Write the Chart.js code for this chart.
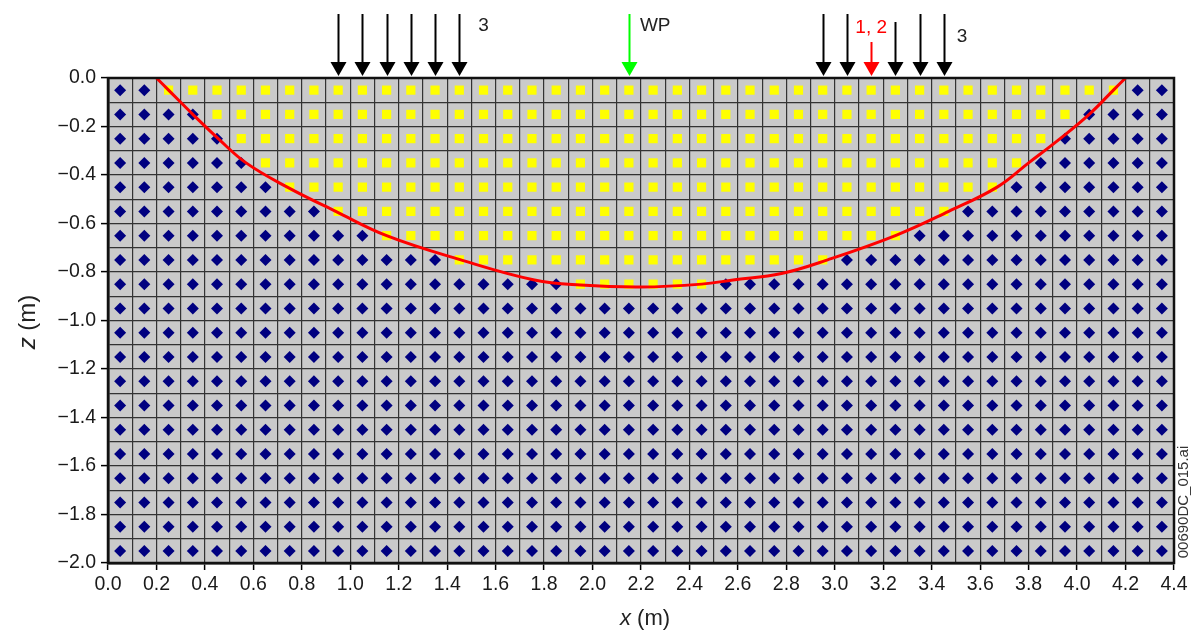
<!DOCTYPE html>
<html>
<head>
<meta charset="utf-8">
<script src="https://cdn.jsdelivr.net/npm/chart.js@4.4.0/dist/chart.umd.min.js"></script>
<style>
html, body { margin: 0; padding: 0; background: #fff; }
</style>
</head>
<body>
<canvas id="myChart" width="1192" height="631"></canvas>
<script>
// grid node centres (m)
const cellX = [0.05, 0.15, 0.25, 0.35, 0.45, 0.55, 0.65, 0.75, 0.85, 0.95, 1.05,
    1.15, 1.25, 1.35, 1.45, 1.55, 1.65, 1.75, 1.85, 1.95, 2.05, 2.15, 2.25, 2.35,
    2.45, 2.55, 2.65, 2.75, 2.85, 2.95, 3.05, 3.15, 3.25, 3.35, 3.45, 3.55, 3.65,
    3.75, 3.85, 3.95, 4.05, 4.15, 4.25, 4.35];
const cellZ = [-0.05, -0.15, -0.25, -0.35, -0.45, -0.55, -0.65, -0.75, -0.85, -0.95,
    -1.05, -1.15, -1.25, -1.35, -1.45, -1.55, -1.65, -1.75, -1.85, -1.95];

// yellow (inside) range per row, first rows only
const yellowFrom = [0.25, 0.45, 0.55, 0.65, 0.75, 0.95, 1.15, 1.45, 1.95];
const yellowTo   = [4.15, 3.95, 3.85, 3.75, 3.65, 3.45, 3.25, 2.95, 2.45];

// red boundary curve
const curveX = [0.20, 0.25, 0.35, 0.455, 0.57, 0.74, 0.94, 1.15, 1.45, 1.76, 1.95,
    2.20, 2.45, 2.58, 2.78, 2.97, 3.25, 3.47, 3.67, 3.80, 3.93, 4.05, 4.15, 4.20];
const curveZ = [0.0, -0.05, -0.15, -0.25, -0.35, -0.45, -0.55, -0.65, -0.748, -0.833, -0.854,
    -0.862, -0.85, -0.833, -0.806, -0.75, -0.65, -0.55, -0.45, -0.35, -0.25, -0.15, -0.05, 0.0];

// arrows above the surface
const blackArrows = [0.95, 1.05, 1.15, 1.25, 1.35, 1.45, 2.95, 3.05, 3.25, 3.35, 3.45];
const greenArrows = [2.15];
const redArrows = [3.15];

var inside = [];
var outside = [];
cellZ.forEach(function (z, r) {
    cellX.forEach(function (x) {
        if (r < yellowFrom.length && x > yellowFrom[r] - 0.01 && x < yellowTo[r] + 0.01) {
            inside.push({ x: x, y: z });
        } else {
            outside.push({ x: x, y: z });
        }
    });
});
var curve = curveX.map(function (x, i) { return { x: x, y: curveZ[i] }; });

function fmt(v) {
    if (Math.abs(v) < 1e-9) return '0.0';
    return v.toFixed(1).replace('-', '\u2212');
}

const extras = {
    id: 'extras',
    beforeDraw: function (chart) {
        const a = chart.chartArea, c = chart.ctx;
        c.save();
        c.fillStyle = '#cacaca';
        c.fillRect(a.left, a.top, a.right - a.left, a.bottom - a.top);
        c.restore();
    },
    afterDraw: function (chart) {
        const a = chart.chartArea, c = chart.ctx;
        const xs = chart.scales.x;
        c.save();
        // frame
        c.strokeStyle = '#111';
        c.lineWidth = 2.5;
        c.strokeRect(a.left, a.top, a.right - a.left, a.bottom - a.top);

        function arrow(v, top, col) {
            var px = Math.round(xs.getPixelForValue(v)) + 0.5;
            var tip = a.top - 2;
            c.strokeStyle = col;
            c.fillStyle = col;
            c.lineWidth = 2;
            c.beginPath();
            c.moveTo(px, top);
            c.lineTo(px, tip - 12);
            c.stroke();
            c.beginPath();
            c.moveTo(px - 8, tip - 14);
            c.lineTo(px + 8, tip - 14);
            c.lineTo(px, tip);
            c.closePath();
            c.fill();
        }
        blackArrows.forEach(function (v) { arrow(v, Math.abs(v - 3.25) < 0.01 ? 22 : 14, '#000'); });
        greenArrows.forEach(function (v) { arrow(v, 14, '#00ff00'); });
        redArrows.forEach(function (v) { arrow(v, 42, '#ff0000'); });

        c.font = '19px "Liberation Sans", Arial, sans-serif';
        c.textBaseline = 'middle';
        c.textAlign = 'left';
        c.fillStyle = '#222';
        c.fillText('3', xs.getPixelForValue(1.45) + 19, 26);
        c.fillText('WP', xs.getPixelForValue(2.15) + 11, 26);
        c.fillText('3', xs.getPixelForValue(3.45) + 13, 37);
        c.textAlign = 'center';
        c.fillStyle = '#ff0000';
        c.fillText('1, 2', xs.getPixelForValue(3.15), 28);

        // axis titles
        c.fillStyle = '#222';
        c.textAlign = 'left';
        c.font = 'italic 22px "Liberation Sans", Arial, sans-serif';
        var w1 = c.measureText('x').width;
        c.font = '22px "Liberation Sans", Arial, sans-serif';
        var w2 = c.measureText(' (m)').width;
        var sx = (a.left + a.right) / 2 - (w1 + w2) / 2 + 4;
        c.font = 'italic 22px "Liberation Sans", Arial, sans-serif';
        c.fillText('x', sx, 619);
        c.font = '22px "Liberation Sans", Arial, sans-serif';
        c.fillText(' (m)', sx + w1, 619);

        c.translate(28, 322);
        c.rotate(-Math.PI / 2);
        c.font = 'italic 24px "Liberation Sans", Arial, sans-serif';
        w1 = c.measureText('z').width;
        c.font = '24px "Liberation Sans", Arial, sans-serif';
        w2 = c.measureText(' (m)').width;
        c.font = 'italic 24px "Liberation Sans", Arial, sans-serif';
        c.fillText('z', -(w1 + w2) / 2, 0);
        c.font = '24px "Liberation Sans", Arial, sans-serif';
        c.fillText(' (m)', -(w1 + w2) / 2 + w1, 0);
        c.restore();

        // file tag
        c.save();
        c.translate(1184, 502);
        c.rotate(-Math.PI / 2);
        c.font = '15px "Liberation Sans", Arial, sans-serif';
        c.fillStyle = '#333';
        c.textAlign = 'center';
        c.textBaseline = 'middle';
        c.fillText('00690DC_015.ai', 0, 0);
        c.restore();
    }
};

const tickFont = { family: '"Liberation Sans", Arial, sans-serif', size: 19.5 };

const ctx = document.getElementById('myChart').getContext('2d');
const myChart = new Chart(ctx, {
    type: 'scatter',
    data: {
        datasets: [{
            data: curve,
            showLine: true,
            borderColor: '#ff0000',
            borderWidth: 3,
            pointRadius: 0,
            tension: 0.4
        }, {
            data: inside,
            pointStyle: 'rect',
            pointRadius: 6.5,
            backgroundColor: '#ffff00',
            borderWidth: 0
        }, {
            data: outside,
            pointStyle: 'rectRot',
            pointRadius: 6,
            backgroundColor: '#000080',
            borderWidth: 0
        }]
    },
    options: {
        responsive: false,
        animation: false,
        devicePixelRatio: 1,
        layout: { padding: { top: 78, right: 18, left: 0, bottom: 0 } },
        plugins: {
            legend: { display: false },
            tooltip: { enabled: false }
        },
        scales: {
            x: {
                type: 'linear',
                min: 0,
                max: 4.4,
                afterFit: function (s) { s.height = 68; },
                ticks: {
                    stepSize: 0.1,
                    autoSkip: false,
                    maxRotation: 0,
                    padding: 3,
                    color: '#1a1a1a',
                    font: tickFont,
                    callback: function (v, i) { return i % 2 === 0 ? fmt(v) : ''; }
                },
                grid: {
                    color: '#333',
                    lineWidth: 1.2,
                    tickLength: 7,
                    tickWidth: 1.5,
                    tickColor: function (c) { return c.index % 2 === 0 ? '#000' : 'rgba(0,0,0,0)'; }
                },
                border: { color: '#111', width: 2.5 }
            },
            y: {
                type: 'linear',
                min: -2,
                max: 0,
                afterFit: function (s) { s.width = 108; },
                ticks: {
                    stepSize: 0.1,
                    autoSkip: false,
                    padding: 5,
                    color: '#1a1a1a',
                    font: tickFont,
                    callback: function (v, i) { return i % 2 === 0 ? fmt(v) : ''; }
                },
                grid: {
                    color: '#333',
                    lineWidth: 1.2,
                    tickLength: 7,
                    tickWidth: 1.5,
                    tickColor: function (c) { return c.index % 2 === 0 ? '#000' : 'rgba(0,0,0,0)'; }
                },
                border: { color: '#111', width: 2.5 }
            }
        }
    },
    plugins: [extras]
});
</script>
</body>
</html>
